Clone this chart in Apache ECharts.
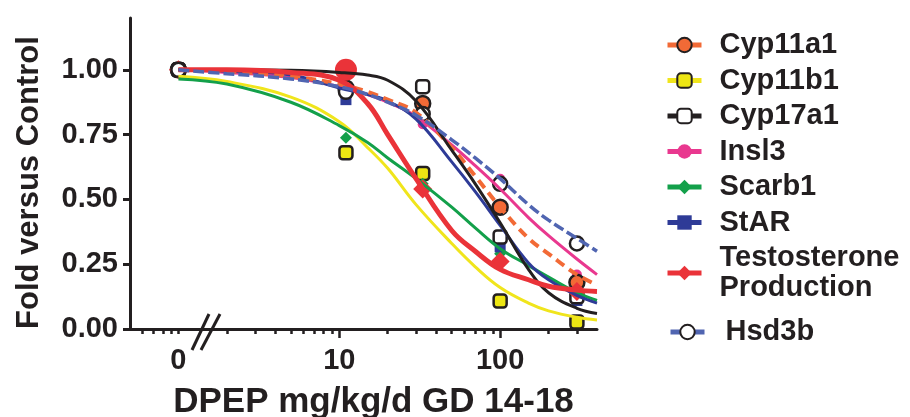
<!DOCTYPE html>
<html>
<head>
<meta charset="utf-8">
<script src="https://cdn.jsdelivr.net/npm/echarts@6/dist/echarts.min.js"></script>
<style>
  html, body { margin: 0; background: #fff; }
  #chart { width: 910px; height: 417px; }
</style>
</head>
<body>
<div id="chart"></div>
<script>
// measured doses (mg/kg/d); the control (0) sits at 1 on the log axis
const doses = [0, 11, 33, 100, 300];
const controlPos = 1;

// measured points, fold versus control
const cyp11a1Pts = [1.0, 0.93, 0.87, 0.47, 0.18];
const cyp11b1Pts = [1.0, 0.68, 0.60, 0.108, 0.027];
const cyp17a1Pts = [1.0, 1.0, 0.935, 0.355, 0.124];
const insl3Pts = [1.0, 0.93, 0.79, 0.58, 0.21];
const scarb1Pts = [1.0, 0.738, 0.56, 0.29, 0.11];
const starPts = [1.0, 0.885, 0.83, 0.317, 0.11];
const testoPts = [1.0, 1.0, 0.54, 0.26, 0.145];
const hsd3bPts = [1.0, 0.915, 0.83, 0.56, 0.33];

// fitted curves
const fitDoses = [1, 2, 5, 10, 15, 20, 30, 50, 70, 100, 150, 200, 300, 400];
const cyp11a1Fit = [1.0, 0.995, 0.975, 0.945, 0.915, 0.885, 0.835, 0.70, 0.59, 0.47, 0.35, 0.29, 0.21, 0.17];
const cyp11b1Fit = [0.975, 0.955, 0.895, 0.80, 0.70, 0.62, 0.48, 0.33, 0.24, 0.16, 0.10, 0.07, 0.045, 0.035];
const cyp17a1Fit = [1.0, 1.0, 0.998, 0.99, 0.98, 0.96, 0.88, 0.69, 0.56, 0.41, 0.23, 0.14, 0.08, 0.06];
const insl3Fit = [1.0, 0.99, 0.97, 0.935, 0.905, 0.875, 0.82, 0.71, 0.63, 0.54, 0.43, 0.36, 0.27, 0.21];
const scarb1Fit = [0.965, 0.945, 0.875, 0.785, 0.72, 0.66, 0.58, 0.47, 0.39, 0.31, 0.245, 0.20, 0.14, 0.11];
const starFit = [1.0, 0.995, 0.98, 0.93, 0.905, 0.88, 0.81, 0.645, 0.53, 0.40, 0.255, 0.19, 0.13, 0.10];
const testoFit = [1.0, 1.0, 0.99, 0.96, 0.87, 0.75, 0.58, 0.38, 0.30, 0.23, 0.19, 0.165, 0.15, 0.145];
const hsd3bFit = [1.0, 0.985, 0.965, 0.935, 0.905, 0.875, 0.825, 0.73, 0.66, 0.58, 0.48, 0.42, 0.35, 0.30];

const yTicks = [0, 0.25, 0.5, 0.75, 1.0];
const xLabels = [1, 10, 100];
const xMajor = [10, 100];
const xMinor = [0.6, 0.7, 0.8, 0.9, 1, 2, 3, 4, 5, 6, 7, 8, 9, 20, 30, 40, 50, 60, 70, 80, 90, 200, 300];
const legendOrder = ['Cyp11a1', 'Cyp11b1', 'Cyp17a1', 'Insl3', 'Scarb1', 'StAR', 'Testosterone Production'];

const ink = '#231f20';
const font = '"Liberation Sans", Arial, sans-serif';

// draw order of the curves: back to front
const groups = [
  { name: 'Cyp11b1', pts: cyp11b1Pts, fit: cyp11b1Fit, line: '#f0e51c', fill: '#ede613', symbol: 'roundRect', size: 13, border: ink, bw: 2.5, lw: 3 },
  { name: 'Scarb1', pts: scarb1Pts, fit: scarb1Fit, line: '#13a04a', fill: '#13a04a', symbol: 'diamond', size: 12, border: '#13a04a', bw: 0, lw: 3 },
  { name: 'Insl3', pts: insl3Pts, fit: insl3Fit, line: '#e9388f', fill: '#e9388f', symbol: 'circle', size: 10, border: '#e9388f', bw: 0, lw: 3 },
  { name: 'StAR', pts: starPts, fit: starFit, line: '#2e3b97', fill: '#2e3b97', symbol: 'rect', size: 11, border: '#2e3b97', bw: 0, lw: 3 },
  { name: 'Cyp11a1', pts: cyp11a1Pts, fit: cyp11a1Fit, line: '#f26a36', fill: '#f26a36', symbol: 'circle', size: 15, border: ink, bw: 2.5, lw: 4, dash: [10, 6] },
  { name: 'Cyp17a1', pts: cyp17a1Pts, fit: cyp17a1Fit, line: ink, fill: '#fff', symbol: 'roundRect', size: 13, border: ink, bw: 2.5, lw: 3 },
  { name: 'Testosterone Production', pts: testoPts, fit: testoFit, line: '#ea3339', fill: '#ea3339', symbol: 'diamond', size: 19, border: '#ea3339', bw: 0, lw: 5 },
  { name: 'Hsd3b', pts: hsd3bPts, fit: hsd3bFit, line: '#5065b1', fill: '#fff', symbol: 'circle', size: 14, border: ink, bw: 2.5, lw: 3.5, dash: [11, 4] }
];

const fitSeries = groups.map(g => ({
  name: g.name,
  type: 'line',
  smooth: 0.4,
  symbol: g.symbol,
  showSymbol: false,
  silent: true,
  itemStyle: { color: g.fill, borderColor: g.border, borderWidth: g.bw },
  lineStyle: { color: g.line, width: g.lw, type: g.dash || 'solid' },
  data: fitDoses.map((d, i) => [d, g.fit[i]])
}));

const pointSeries = groups.map(g => ({
  name: g.name + ' data',
  type: 'scatter',
  symbol: g.symbol,
  symbolSize: g.size,
  silent: true,
  itemStyle: { color: g.fill, borderColor: g.border, borderWidth: g.bw, opacity: 1 },
  data: doses.map((d, i) => {
    const item = { value: [d === 0 ? controlPos : d, g.pts[i]] };
    // the large solid dot at 10 mg/kg/d
    if (g.name === 'Testosterone Production' && i === 1) {
      item.symbol = 'circle';
      item.symbolSize = 22;
    }
    return item;
  })
}));

const legendText = { fontFamily: font, fontWeight: 'bold', fontSize: 29, color: ink, lineHeight: 30, padding: [0, 0, 0, 13] };

const chart = echarts.init(document.getElementById('chart'), null, { renderer: 'canvas' });
chart.setOption({
  animation: false,
  textStyle: { fontFamily: font },
  grid: { left: 130, top: 18, width: 467, height: 311, containLabel: false, outerBoundsMode: 'none' },
  legend: [
    {
      data: legendOrder,
      orient: 'vertical', left: 665, top: 30, padding: 0,
      itemWidth: 34, itemHeight: 18, itemGap: 5.5,
      lineStyle: { width: 5, type: 'solid' },
      textStyle: legendText,
      formatter: n => n === 'Testosterone Production' ? 'Testosterone\nProduction' : n,
      selectedMode: false
    },
    {
      data: ['Hsd3b'],
      orient: 'vertical', left: 668, top: 317, padding: 0,
      itemWidth: 34, itemHeight: 18,
      lineStyle: { width: 5, type: 'solid' },
      textStyle: Object.assign({}, legendText, { padding: [0, 0, 0, 16] }),
      selectedMode: false
    }
  ],
  xAxis: [
    {
      type: 'log', logBase: 10, min: 0.5, max: 400,
      axisLine: { lineStyle: { color: ink, width: 3 } },
      axisTick: { customValues: xMinor, length: 5, lineStyle: { color: ink, width: 2.5 } },
      axisLabel: { show: false },
      splitLine: { show: false }
    },
    {
      type: 'log', logBase: 10, min: 0.5, max: 400, position: 'bottom',
      axisLine: { show: false },
      axisTick: { customValues: xMajor, length: 9, lineStyle: { color: ink, width: 2.5 } },
      axisLabel: {
        customValues: xLabels, margin: 17, color: ink, fontSize: 29, fontWeight: 'bold', fontFamily: font,
        formatter: v => Math.round(v) === 1 ? '0' : String(Math.round(v))
      },
      splitLine: { show: false },
      name: 'DPEP mg/kg/d GD 14-18',
      nameLocation: 'middle', nameGap: 56,
      nameTextStyle: { color: ink, fontSize: 35, fontWeight: 'bold', fontFamily: font, padding: [0, 0, 0, 20] }
    }
  ],
  yAxis: {
    type: 'value', min: 0, max: 1.2,
    axisLine: { show: true, lineStyle: { color: ink, width: 3 } },
    axisTick: { show: true, customValues: yTicks, length: 7, lineStyle: { color: ink, width: 3 } },
    axisLabel: {
      customValues: yTicks, margin: 12, color: ink, fontSize: 29, fontWeight: 'bold', fontFamily: font,
      formatter: v => v.toFixed(2)
    },
    splitLine: { show: false },
    name: 'Fold versus Control',
    nameLocation: 'middle', nameGap: 85, nameRotate: 90,
    nameTextStyle: { color: ink, fontSize: 31, fontWeight: 'bold', fontFamily: font, padding: [0, 18, 0, 0] }
  },
  graphic: [
    { type: 'line', shape: { x1: 192, y1: 350, x2: 209, y2: 314 }, style: { stroke: ink, lineWidth: 3 }, z: 100 },
    { type: 'line', shape: { x1: 201, y1: 350, x2: 220, y2: 314 }, style: { stroke: ink, lineWidth: 3 }, z: 100 }
  ],
  series: fitSeries.concat(pointSeries)
});
</script>
</body>
</html>
